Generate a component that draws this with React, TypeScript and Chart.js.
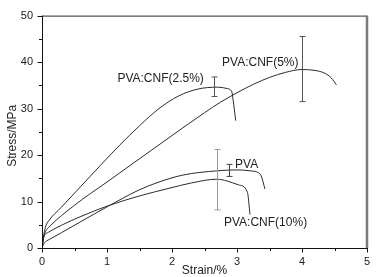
import React, { useEffect, useRef } from "react";
import { Chart, registerables } from "chart.js";

Chart.register(...registerables);

// Series: strain (%) and stress (MPa)
const pvaX = [0, 0.03, 0.07, 0.12, 0.3, 0.6, 1.02, 1.48, 1.8, 2.17, 2.69, 3.0, 3.2, 3.33, 3.37, 3.43];
const pvaY = [0, 1.0, 1.5, 1.9, 3.3, 5.7, 9.0, 12.4, 14.2, 15.7, 16.6, 16.8, 16.6, 16.2, 15.6, 12.7];

const cnf10X = [0, 0.02, 0.05, 0.1, 0.3, 0.6, 1.02, 1.5, 1.97, 2.3, 2.69, 2.85, 3.02, 3.16, 3.2];
const cnf10Y = [0, 2.0, 2.9, 3.4, 4.9, 6.8, 9.1, 11.2, 12.9, 14.0, 14.8, 14.4, 13.6, 12.0, 7.2];

const cnf25X = [0, 0.03, 0.06, 0.1, 0.3, 0.6, 0.9, 1.2, 1.5, 1.8, 2.1, 2.4, 2.7, 2.85, 2.92, 2.94, 2.98];
const cnf25Y = [0, 3.0, 4.8, 5.8, 8.8, 13.3, 17.8, 22.2, 26.3, 30.0, 32.7, 34.2, 34.6, 34.3, 33.6, 31.9, 27.4];

const cnf5X = [0, 0.03, 0.06, 0.1, 0.5, 1.0, 1.5, 2.0, 2.5, 2.75, 3.0, 3.25, 3.5, 3.75, 4.0, 4.2, 4.35, 4.45, 4.53];
const cnf5Y = [0, 2.5, 3.7, 4.4, 9.2, 14.2, 19.2, 24.2, 29.1, 31.4, 33.4, 35.2, 36.7, 37.8, 38.4, 38.2, 37.6, 36.6, 35.1];

// Error bars (x, low, high)
const errX = [2.64, 4.0, 2.88, 2.69];
const errLow = [32.6, 31.5, 15.4, 8.2];
const errHigh = [36.8, 45.5, 18.0, 21.2];
const errColor = ["#555", "#555", "#444", "#9a9a9a"];

// Curve labels (text anchored at left-middle in data units)
const labelText = ["PVA:CNF(2.5%)", "PVA:CNF(5%)", "PVA", "PVA:CNF(10%)"];
const labelX = [1.16, 2.77, 2.97, 2.8];
const labelY = [36.4, 39.9, 18.0, 5.5];

// Axis ticks
const xMajor = [0, 1, 2, 3, 4, 5];
const xMinor = [0.5, 1.5, 2.5, 3.5, 4.5];
const yMajor = [0, 10, 20, 30, 40, 50];
const yMinor = [5, 15, 25, 35, 45];

const toPts = (xs: number[], ys: number[]) => xs.map((x, i) => ({ x, y: ys[i] }));

const FONT = "'Liberation Sans', Arial, Helvetica, sans-serif";

const decorPlugin = {
  id: "decor",
  afterDraw(chart: any) {
    const { ctx, chartArea } = chart;
    const xs = chart.scales.x;
    const ys = chart.scales.y;
    const { left, right, top, bottom } = chartArea;
    ctx.save();
    // frame top
    ctx.strokeStyle = "#555";
    ctx.lineWidth = 1.2;
    ctx.beginPath();
    ctx.moveTo(left, top + 0.5);
    ctx.lineTo(right, top + 0.5);
    ctx.stroke();
    // frame right
    ctx.strokeStyle = "#7a7a7a";
    ctx.lineWidth = 2.5;
    ctx.beginPath();
    ctx.moveTo(right, top);
    ctx.lineTo(right, bottom);
    ctx.stroke();
    // axes
    ctx.strokeStyle = "#111";
    ctx.lineWidth = 1;
    ctx.beginPath();
    ctx.moveTo(left + 0.5, top);
    ctx.lineTo(left + 0.5, bottom + 0.5);
    ctx.lineTo(right, bottom + 0.5);
    ctx.stroke();
    // ticks
    ctx.beginPath();
    xMajor.forEach((v) => {
      const p = Math.round(xs.getPixelForValue(v)) + 0.5;
      ctx.moveTo(p, bottom);
      ctx.lineTo(p, bottom + 4.5);
    });
    xMinor.forEach((v) => {
      const p = Math.round(xs.getPixelForValue(v)) + 0.5;
      ctx.moveTo(p, bottom);
      ctx.lineTo(p, bottom + 3);
    });
    yMajor.forEach((v) => {
      const p = Math.round(ys.getPixelForValue(v)) + 0.5;
      ctx.moveTo(left, p);
      ctx.lineTo(left - 4.5, p);
    });
    yMinor.forEach((v) => {
      const p = Math.round(ys.getPixelForValue(v)) + 0.5;
      ctx.moveTo(left, p);
      ctx.lineTo(left - 3, p);
    });
    ctx.stroke();
    // error bars
    errX.forEach((xv, i) => {
      const px = Math.round(xs.getPixelForValue(xv)) + 0.5;
      const pl = ys.getPixelForValue(errLow[i]);
      const ph = ys.getPixelForValue(errHigh[i]);
      ctx.strokeStyle = errColor[i];
      ctx.lineWidth = 1;
      ctx.beginPath();
      ctx.moveTo(px, ph);
      ctx.lineTo(px, pl);
      ctx.moveTo(px - 3, ph);
      ctx.lineTo(px + 3, ph);
      ctx.moveTo(px - 3, pl);
      ctx.lineTo(px + 3, pl);
      ctx.stroke();
    });
    // labels
    ctx.fillStyle = "#222";
    ctx.font = `12px ${FONT}`;
    ctx.textAlign = "left";
    ctx.textBaseline = "middle";
    labelText.forEach((t, i) => {
      ctx.fillText(t, xs.getPixelForValue(labelX[i]), ys.getPixelForValue(labelY[i]));
    });
    // y-axis title
    ctx.save();
    ctx.translate(13, (top + bottom) / 2 + 4);
    ctx.rotate(-Math.PI / 2);
    ctx.textAlign = "center";
    ctx.fillText("Stress/MPa", 0, 0);
    ctx.restore();
    ctx.restore();
  },
};

export default function App() {
  const ref = useRef<HTMLCanvasElement | null>(null);
  useEffect(() => {
    if (!ref.current) return;
    const line = { borderColor: "#2b2b2b", borderWidth: 1, pointRadius: 0, cubicInterpolationMode: "monotone" as const, fill: false };
    const chart = new Chart(ref.current, {
      type: "line",
      data: {
        datasets: [
          { label: "PVA", data: toPts(pvaX, pvaY), ...line },
          { label: "PVA:CNF(10%)", data: toPts(cnf10X, cnf10Y), ...line },
          { label: "PVA:CNF(2.5%)", data: toPts(cnf25X, cnf25Y), ...line },
          { label: "PVA:CNF(5%)", data: toPts(cnf5X, cnf5Y), ...line },
        ],
      },
      options: {
        responsive: false,
        animation: false,
        devicePixelRatio: 1,
        layout: { padding: { top: 11, right: 11, left: 0, bottom: 0 } },
        plugins: { legend: { display: false }, tooltip: { enabled: false } },
        scales: {
          x: {
            type: "linear",
            min: 0,
            max: 5,
            grid: { display: false, drawTicks: false },
            border: { display: false },
            ticks: { stepSize: 1, padding: 7, color: "#222", font: { family: FONT, size: 11 }, maxRotation: 0 },
            title: { display: true, text: "Strain/%", color: "#222", font: { family: FONT, size: 12, lineHeight: 1 }, padding: { top: 0, bottom: 0 } },
            afterFit: (s: any) => { s.height = 29; },
          },
          y: {
            type: "linear",
            min: 0,
            max: 50,
            grid: { display: false, drawTicks: false },
            border: { display: false },
            ticks: { stepSize: 10, padding: 9, color: "#222", font: { family: FONT, size: 11 } },
            title: { display: false, text: "Stress/MPa" },
            afterFit: (s: any) => { s.width = 42; },
          },
        },
      },
      plugins: [decorPlugin],
    });
    return () => chart.destroy();
  }, []);
  return (
    <div style={{ position: "absolute", left: 0, top: 0, width: 378, height: 277, background: "#fff" }}>
      <canvas ref={ref} width={378} height={277} style={{ display: "block" }} />
    </div>
  );
}
